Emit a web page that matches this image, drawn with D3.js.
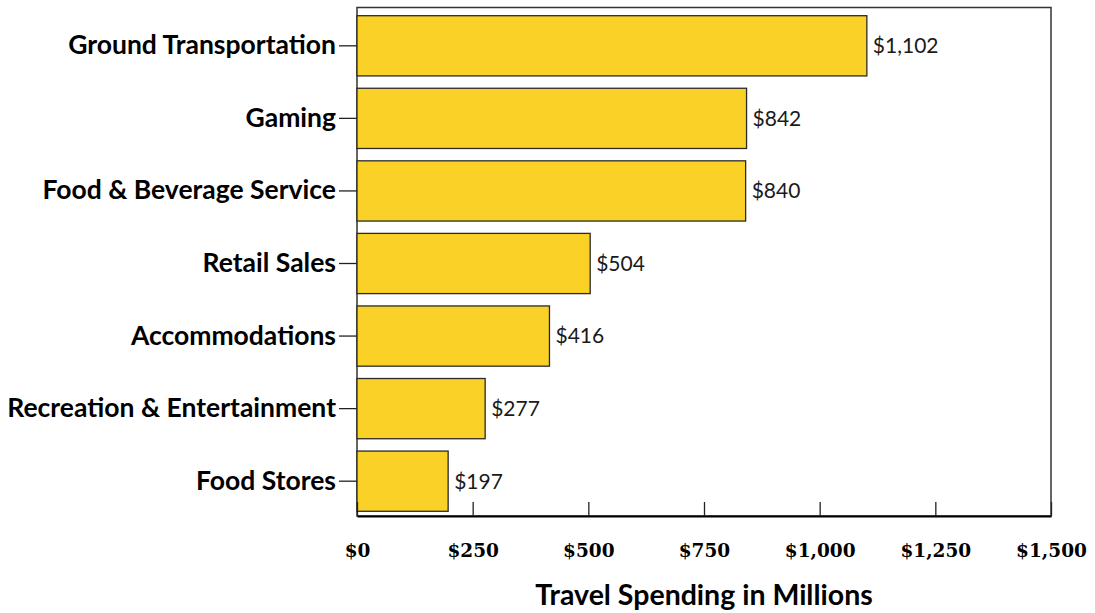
<!DOCTYPE html>
<html>
<head>
<meta charset="utf-8">
<script src="https://cdn.jsdelivr.net/npm/d3@7"></script>
<style>
  html, body { margin: 0; padding: 0; background: #fff; }
  svg { display: block; }
</style>
</head>
<body>
<svg id="chart" width="1095" height="613"></svg>
<script>
// Travel spending by category, in millions of dollars
const categories = [
  "Ground Transportation",
  "Gaming",
  "Food & Beverage Service",
  "Retail Sales",
  "Accommodations",
  "Recreation & Entertainment",
  "Food Stores"
];
const spending = [1102, 842, 840, 504, 416, 277, 197];
const tickValues = [0, 250, 500, 750, 1000, 1250, 1500];
const axisTitle = "Travel Spending in Millions";

const svg = d3.select("#chart");
const plotLeft = 357, plotRight = 1051, plotTop = 7.5, plotBottom = 516;

const x = d3.scaleLinear().domain([0, 1500]).range([plotLeft, plotRight]);
const y = d3.scaleBand().domain(categories).range([15.7, 511.3])
  .paddingInner(0.17).paddingOuter(0);

const money = d3.format("$,");
const rows = categories.map((c, i) => ({ name: c, value: spending[i] }));

// plot frame
svg.append("rect")
  .attr("x", plotLeft).attr("y", plotTop)
  .attr("width", plotRight - plotLeft).attr("height", plotBottom - plotTop)
  .attr("fill", "none").attr("stroke", "#333").attr("stroke-width", 1.5);

// bars
svg.append("g").selectAll("rect").data(rows).join("rect")
  .attr("x", x(0))
  .attr("y", d => y(d.name))
  .attr("width", d => x(d.value) - x(0))
  .attr("height", y.bandwidth())
  .attr("fill", "#F9D127")
  .attr("stroke", "#2a2a2a")
  .attr("stroke-width", 1.3);

// value labels
svg.append("g").selectAll("text").data(rows).join("text")
  .attr("x", d => x(d.value) + 6)
  .attr("y", d => y(d.name) + y.bandwidth() / 2)
  .attr("dy", "0.35em")
  .attr("font-family", "Lato, 'Noto Sans', sans-serif")
  .attr("font-size", 21)
  .attr("fill", "#1a1a1a")
  .text(d => money(d.value));

// category axis
const yAxis = svg.append("g")
  .attr("transform", `translate(${plotLeft},0)`)
  .call(d3.axisLeft(y).tickSize(18).tickPadding(3));
yAxis.select(".domain").remove();
yAxis.selectAll(".tick line").attr("stroke", "#222").attr("stroke-width", 1.3);
yAxis.selectAll(".tick text")
  .attr("font-family", "Lato, 'Noto Sans', sans-serif")
  .attr("font-weight", "bold")
  .attr("font-size", 26.5)
  .attr("fill", "#000");

// value axis
const xAxis = svg.append("g")
  .attr("transform", `translate(0,${plotBottom})`)
  .call(d3.axisBottom(x).tickValues(tickValues).tickFormat(money)
    .tickSizeInner(-14).tickSizeOuter(0).tickPadding(28));
xAxis.select(".domain").attr("stroke", "#000").attr("stroke-width", 2.2);
xAxis.selectAll(".tick line").attr("stroke", "#222").attr("stroke-width", 1.3);
xAxis.selectAll(".tick text")
  .attr("font-family", "'DejaVu Serif', 'Liberation Serif', serif")
  .attr("font-weight", "bold")
  .attr("font-size", 18.5)
  .attr("fill", "#000");

// axis title
svg.append("text")
  .attr("x", (plotLeft + plotRight) / 2)
  .attr("y", 605)
  .attr("text-anchor", "middle")
  .attr("font-family", "Lato, 'Noto Sans', sans-serif")
  .attr("font-weight", "bold")
  .attr("font-size", 28.5)
  .attr("fill", "#000")
  .text(axisTitle);
</script>
</body>
</html>
